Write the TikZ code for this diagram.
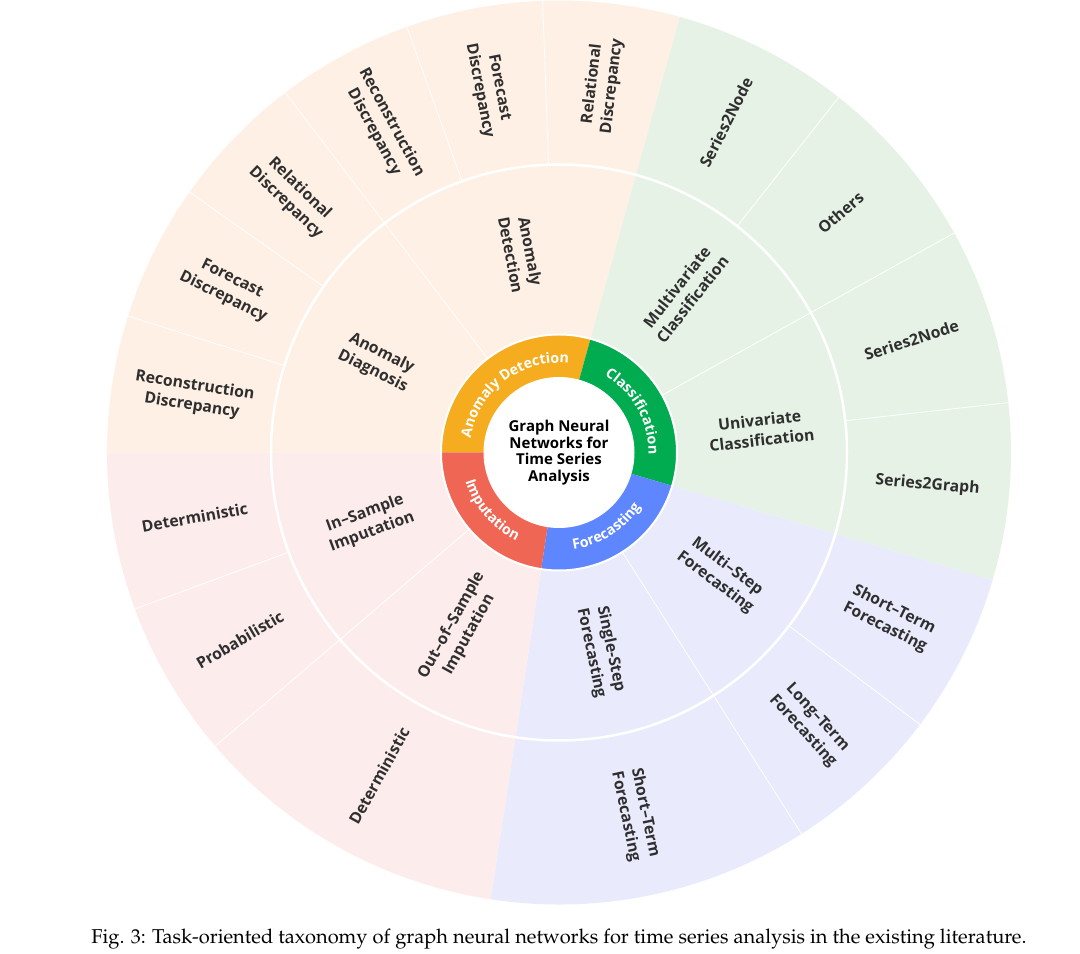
\documentclass[tikz,border=0pt]{standalone}
\usepackage[T1]{fontenc}
\usepackage{fontspec}
\setmainfont{Open Sans}
\usetikzlibrary{decorations.text}
\definecolor{cA}{HTML}{F6AC1F}
\definecolor{cC}{HTML}{00AC4F}
\definecolor{cF}{HTML}{5E86FF}
\definecolor{cI}{HTML}{EF6654}
\definecolor{tA}{HTML}{FEF0E4}
\definecolor{tC}{HTML}{E6F2E6}
\definecolor{tF}{HTML}{E9EBFD}
\definecolor{tI}{HTML}{FDECEC}
\definecolor{labc}{HTML}{2F2F2F}
\newcommand\mysector[5]{\fill[#5] (#1:#3) arc[start angle=#1,end angle=#2,radius=#3] -- (#2:#4) arc[start angle=#2,end angle=#1,radius=#4] -- cycle;}
\newcommand\mysep[3]{\draw[sepline] (#1:#2) -- (#1:#3);}
\newcommand\ringtext[4]{\path[decorate, decoration={text along path, text align=center, text={|\color{white}\bfseries\fontsize{14.2}{15}\selectfont|#4}}] (#1:#3) arc[start angle=#1, end angle=#2, radius=#3];}
\tikzset{
  lab/.style={font=\bfseries\fontsize{15.8}{20}\selectfont, text=labc, align=center, inner sep=0pt},
  sepline/.style={white, line width=0.8pt},
  ringline/.style={white, line width=2.5pt},
}
\begin{document}
\begin{tikzpicture}
\useasboundingbox (0,0) rectangle (1080pt,954pt);
\fill[white] (0,0) rectangle (1080pt,954pt);
\begin{scope}[shift={(559pt,501.5pt)}]
% outer rings (levels 2 and 3)
\mysector{74.5}{180}{118pt}{452pt}{tA}
\mysector{-16.4}{74.5}{118pt}{452pt}{tC}
\mysector{261.3}{343.6}{118pt}{452pt}{tF}
\mysector{180}{261.3}{118pt}{452pt}{tI}
% separators through levels 2 and 3
\mysep{127.25}{118pt}{452pt}
\mysep{29.05}{118pt}{452pt}
\mysep{302.45}{118pt}{452pt}
\mysep{220.5}{118pt}{452pt}
% separators in level 3
\mysep{92.08}{288pt}{452pt}
\mysep{109.67}{288pt}{452pt}
\mysep{144.83}{288pt}{452pt}
\mysep{162.42}{288pt}{452pt}
\mysep{51.78}{288pt}{452pt}
\mysep{6.33}{288pt}{452pt}
\mysep{323.0}{288pt}{452pt}
\mysep{200.25}{288pt}{452pt}
\draw[ringline] (0,0) circle[radius=288pt];
% level 1
\mysector{74.5}{180}{75pt}{118pt}{cA}
\mysector{-16.4}{74.5}{75pt}{118pt}{cC}
\mysector{261.3}{343.6}{75pt}{118pt}{cF}
\mysector{180}{261.3}{75pt}{118pt}{cI}
\draw[white, line width=2pt] (0,0) circle[radius=118pt];
\draw[white, line width=1pt] (0,0) circle[radius=75pt];
% curved level-1 labels
\ringtext{177.25}{77.25}{89.5pt}{Anomaly Detection}
\ringtext{79.05}{-20.95}{89.5pt}{Classification}
\ringtext{252.45}{352.45}{98pt}{Forecasting}
\ringtext{170.65}{270.65}{98pt}{Imputation}
% centre
\node[font=\bfseries\fontsize{15}{16.7}\selectfont, align=center, text=black] (root) at (0,0) {Graph Neural\\Networks for\\Time Series\\Analysis};
% level 3 labels
\node[lab, rotate=83.29] (l3a) at (83.29:370pt) {Relational\\Discrepancy};
\node[lab, rotate=-79.12] (l3b) at (100.88:370pt) {Forecast\\Discrepancy};
\node[lab, rotate=-61.54] (l3c) at (118.46:370pt) {Reconstruction\\Discrepancy};
\node[lab, rotate=-43.96] (l3d) at (136.04:370pt) {Relational\\Discrepancy};
\node[lab, rotate=-26.37] (l3e) at (153.63:370pt) {Forecast\\Discrepancy};
\node[lab, rotate=-8.79] (l3f) at (171.21:370pt) {Reconstruction\\Discrepancy};
\node[lab, rotate=63.15] (l3g) at (63.15:370pt) {Series2Node};
\node[lab, rotate=40.43] (l3h) at (40.43:370pt) {Others};
\node[lab, rotate=17.68] (l3i) at (17.68:370pt) {Series2Node};
\node[lab, rotate=-5.05] (l3j) at (-5.05:370pt) {Series2Graph};
\node[lab, rotate=-26.7] (l3k) at (333.3:370pt) {Short–Term\\Forecasting};
\node[lab, rotate=-47.3] (l3l) at (312.7:370pt) {Long–Term\\Forecasting};
\node[lab, rotate=-78.1] (l3m) at (281.9:370pt) {Short–Term\\Forecasting};
\node[lab, rotate=10.1] (l3n) at (190.1:370pt) {Deterministic};
\node[lab, rotate=30.4] (l3o) at (210.4:370pt) {Probabilistic};
\node[lab, rotate=60.9] (l3p) at (240.9:370pt) {Deterministic};
% level 2 labels
\node[lab, rotate=-79.12] (l2a) at (100.88:203pt) {Anomaly\\Detection};
\node[lab, rotate=-26.37] (l2b) at (153.63:203pt) {Anomaly\\Diagnosis};
\node[lab, rotate=51.78] (l2c) at (51.78:203pt) {Multivariate\\Classification};
\node[lab, rotate=6.33] (l2d) at (6.33:203pt) {Univariate\\Classification};
\node[lab, rotate=-37] (l2e) at (323.0:203pt) {Multi–Step\\Forecasting};
\node[lab, rotate=-78.1] (l2f) at (281.9:203pt) {Single-Step\\Forecasting};
\node[lab, rotate=20.25] (l2g) at (200.25:203pt) {In–Sample\\Imputation};
\node[lab, rotate=60.9] (l2h) at (240.9:203pt) {Out–of–Sample\\Imputation};
\end{scope}
\node[anchor=base, inner sep=0pt] (cap) at (559pt,10.7pt) {\resizebox{935pt}{!}{\fontencoding{T1}\fontfamily{ppl}\selectfont Fig. 3: Task-oriented taxonomy of graph neural networks for time series analysis in the existing literature.}};
\end{tikzpicture}
\end{document}
